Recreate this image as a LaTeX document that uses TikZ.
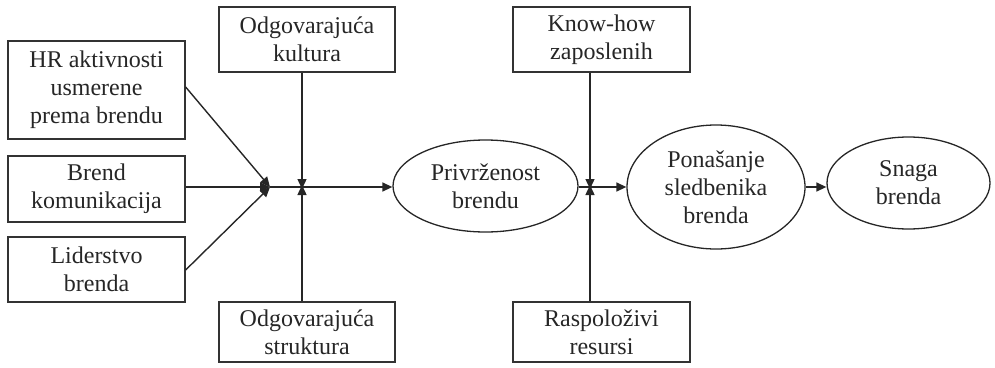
\documentclass[tikz,border=0pt]{standalone}
\usepackage{fontspec}
\setmainfont{Liberation Serif}
\usetikzlibrary{shapes.geometric,arrows.meta}

\tikzset{
  lbl/.style={font=\fontsize{24}{28}\selectfont, align=center, text=black!85},
  factorbox/.style={lbl, draw=black!80, line width=1.3pt, rectangle, inner sep=0pt},
  stagebox/.style={lbl, draw=black!85, line width=1.3pt, ellipse, inner sep=0pt},
  flow/.style={draw=black!85, line width=1.4pt, -{Triangle[length=10pt,width=9pt]}},
  plain/.style={draw=black!85, line width=1.4pt}
}

\begin{document}
\begin{tikzpicture}[x=1pt,y=-1pt]
  \useasboundingbox (0,0) rectangle (995,367);

  % input factors on the left
  \node[factorbox, minimum width=177pt, minimum height=98pt] (hr) at (96.5,90)
    {HR aktivnosti\\usmerene\\prema brendu};
  \node[factorbox, minimum width=177pt, minimum height=66pt] (kom) at (96.5,189)
    {Brend\\komunikacija};
  \node[factorbox, minimum width=177pt, minimum height=65pt] (lid) at (96.5,269.5)
    {Liderstvo\\brenda};

  % moderators
  \node[factorbox, minimum width=176pt, minimum height=65pt] (kul) at (307,39.5)
    {Odgovarajuća\\kultura};
  \node[factorbox, minimum width=176pt, minimum height=60pt] (str) at (307,332)
    {Odgovarajuća\\struktura};
  \node[factorbox, minimum width=177pt, minimum height=65pt] (know) at (601.5,39.5)
    {Know-how\\zaposlenih};
  \node[factorbox, minimum width=177pt, minimum height=60pt] (res) at (601.5,332)
    {Raspoloživi\\resursi};

  % stages
  \node[stagebox, minimum width=185pt, minimum height=92pt] (priv) at (485.5,186)
    {Privrženost\\brendu};
  \node[stagebox, minimum width=178pt, minimum height=124pt] (pon) at (716,187)
    {Ponašanje\\sledbenika\\brenda};
  \node[stagebox, minimum width=163pt, minimum height=92pt] (snaga) at (908.5,183)
    {Snaga\\brenda};

  % junction points
  \coordinate (j1) at (270,187);
  \coordinate (j2) at (302,187);
  \coordinate (j3) at (590,187);

  % inputs converge
  \draw[flow] (hr.east |- 0,87) -- (j1);
  \draw[flow] (kom.east |- j1) -- (j1);
  \draw[flow] (lid.east |- 0,270) -- (j1);
  \draw[flow] (j1) -- (priv.west |- j1);

  % moderators on the first link
  \draw[flow] (kul.south -| j2) -- ([yshift=-2pt]j2);
  \draw[flow] (str.north -| j2) -- ([yshift=2pt]j2);

  % second link
  \draw[flow] (priv.east |- j3) -- (pon.west |- j3);
  \draw[flow] (know.south -| j3) -- ([yshift=-2pt]j3);
  \draw[flow] (res.north -| j3) -- ([yshift=2pt]j3);

  % final link
  \draw[flow] (pon.east |- j3) -- (snaga.west |- j3);
\end{tikzpicture}
\end{document}
